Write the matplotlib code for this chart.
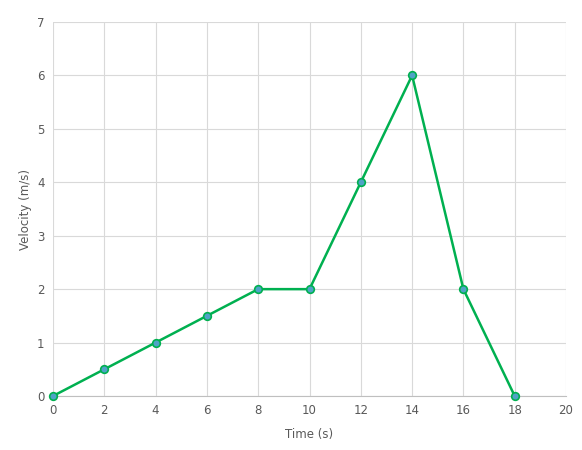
import matplotlib.pyplot as plt

# Data
time_s = [0, 2, 4, 6, 8, 10, 12, 14, 16, 18]
velocity = [0, 0.5, 1, 1.5, 2, 2, 4, 6, 2, 0]

fig = plt.figure(figsize=(5.82, 4.5), dpi=100)
ax = fig.add_axes([53 / 582, 1 - 396 / 450, (566 - 53) / 582, (396 - 22) / 450])

ax.plot(time_s, velocity, color='#00B050', linewidth=1.8, marker='o',
        markersize=5.5, markerfacecolor='#4FA3C6', markeredgecolor='#00B050',
        markeredgewidth=1.2, zorder=3, clip_on=False)

ax.set_xlim(0, 20)
ax.set_ylim(0, 7)
ax.set_xticks(range(0, 21, 2))
ax.set_yticks(range(0, 8))
ax.grid(True, color='#D9D9D9', linewidth=0.8)
ax.set_axisbelow(True)

for side in ['top', 'right', 'left']:
    ax.spines[side].set_visible(False)
ax.spines['bottom'].set_color('#BFBFBF')
ax.tick_params(length=0, labelsize=8.5, colors='#595959', pad=6)

ax.set_xlabel('Time (s)', fontsize=8.5, color='#595959', labelpad=8)
ax.set_ylabel('Velocity (m/s)', fontsize=8.5, color='#595959', labelpad=4)

fig.savefig('out.png', dpi=100)
